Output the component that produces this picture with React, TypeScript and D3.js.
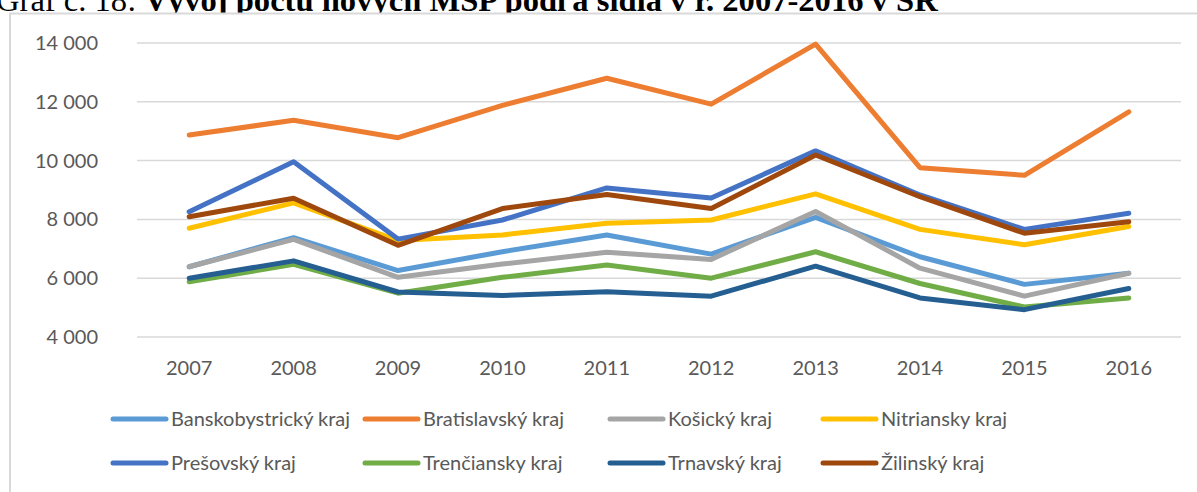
import React, { useEffect, useRef } from 'react';
import * as d3 from 'd3';

const years = ['2007', '2008', '2009', '2010', '2011', '2012', '2013', '2014', '2015', '2016'];

const banskobystricky = [6390, 7380, 6260, 6900, 7470, 6820, 8070, 6730, 5790, 6170];
const bratislavsky = [10870, 11370, 10780, 11880, 12800, 11920, 13960, 9760, 9500, 11660];
const kosicky = [6390, 7320, 6030, 6480, 6880, 6640, 8270, 6340, 5390, 6170];
const nitriansky = [7700, 8560, 7280, 7470, 7870, 7980, 8870, 7660, 7140, 7760];
const presovsky = [8260, 9960, 7330, 7980, 9070, 8730, 10330, 8830, 7660, 8210];
const trenciansky = [5880, 6470, 5490, 6030, 6450, 6000, 6900, 5820, 5020, 5330];
const trnavsky = [6000, 6590, 5530, 5410, 5540, 5390, 6410, 5330, 4930, 5650];
const zilinsky = [8090, 8720, 7120, 8370, 8850, 8370, 10190, 8770, 7530, 7920];

const seriesNames = [
  'Banskobystrický kraj',
  'Bratislavský kraj',
  'Košický kraj',
  'Nitriansky kraj',
  'Prešovský kraj',
  'Trenčiansky kraj',
  'Trnavský kraj',
  'Žilinský kraj',
];
const seriesValues = [banskobystricky, bratislavsky, kosicky, nitriansky, presovsky, trenciansky, trnavsky, zilinsky];
const colors = ['#5b9bd5', '#ed7d31', '#a5a5a5', '#ffc000', '#4472c4', '#70ad47', '#255e91', '#9e480e'];

const yTicks = [4000, 6000, 8000, 10000, 12000, 14000];

const W = 1197;
const H = 492;

const App = () => {
  const ref = useRef<SVGSVGElement>(null);

  useEffect(() => {
    const svg = d3.select(ref.current);
    svg.selectAll('*').remove();

    const font = 'Lato, "Open Sans", sans-serif';
    const fontSize = '20px';

    // title, its top runs off the page
    const title = svg
      .append('text')
      .attr('x', -4)
      .attr('y', 10.5)
      .style('font-family', '"Liberation Serif", "Times New Roman", serif')
      .style('font-size', '32.6px')
      .attr('fill', '#000');
    title.append('tspan').text('Graf č. 18: ');
    title.append('tspan').attr('font-weight', 'bold').text('Vývoj počtu nových MSP podľa sídla v r. 2007-2016 v SR');

    svg
      .append('rect')
      .attr('x', 10)
      .attr('y', 13.5)
      .attr('width', W + 10)
      .attr('height', H + 10)
      .attr('fill', '#fff')
      .attr('stroke', '#d9d9d9')
      .attr('stroke-width', 2);

    const left = 137;
    const right = 1181;

    const x = d3.scaleBand<string>().domain(years).range([left, right]);
    const y = d3.scaleLinear().domain([4000, 14000]).range([337, 43]);

    const fmt = (v: number) => d3.format(',')(v).replace(',', ' ');

    svg
      .append('g')
      .selectAll('line')
      .data(yTicks)
      .enter()
      .append('line')
      .attr('x1', left)
      .attr('x2', right)
      .attr('y1', d => y(d))
      .attr('y2', d => y(d))
      .attr('stroke', '#d9d9d9')
      .attr('stroke-width', 1.5);

    svg
      .append('g')
      .selectAll('text')
      .data(yTicks)
      .enter()
      .append('text')
      .attr('x', 98)
      .attr('y', d => y(d))
      .attr('dy', '0.35em')
      .attr('text-anchor', 'end')
      .attr('fill', '#595959')
      .style('font-family', font)
      .style('font-size', fontSize)
      .text(d => fmt(d));

    svg
      .append('g')
      .selectAll('text')
      .data(years)
      .enter()
      .append('text')
      .attr('x', d => x(d)! + x.bandwidth() / 2)
      .attr('y', 368)
      .attr('dy', '0.35em')
      .attr('text-anchor', 'middle')
      .attr('fill', '#595959')
      .style('font-family', font)
      .style('font-size', fontSize)
      .text(d => d);

    const line = d3
      .line<number>()
      .x((d, i) => x(years[i])! + x.bandwidth() / 2)
      .y(d => y(d));

    seriesValues.forEach((vals, i) => {
      svg
        .append('path')
        .datum(vals)
        .attr('fill', 'none')
        .attr('stroke', colors[i])
        .attr('stroke-width', 5)
        .attr('stroke-linejoin', 'round')
        .attr('stroke-linecap', 'round')
        .attr('d', line);
    });

    // legend
    const legendX = [113, 365, 610, 823];
    const legendY = [419, 463];
    seriesNames.forEach((name, i) => {
      const col = i % 4;
      const row = Math.floor(i / 4);
      const g = svg.append('g').attr('transform', `translate(${legendX[col]},${legendY[row]})`);
      g.append('line')
        .attr('x1', 0)
        .attr('x2', 53)
        .attr('y1', 0)
        .attr('y2', 0)
        .attr('stroke', colors[i])
        .attr('stroke-width', 5)
        .attr('stroke-linecap', 'round');
      g.append('text')
        .attr('x', 58)
        .attr('y', 0)
        .attr('dy', '0.35em')
        .attr('fill', '#595959')
        .style('font-family', font)
        .style('font-size', fontSize)
        .text(name);
    });
  }, []);

  return (
    <svg
      ref={ref}
      width={W}
      height={H}
      style={{ position: 'absolute', left: 0, top: 0, background: '#fff' }}
    ></svg>
  );
};

export default App;
